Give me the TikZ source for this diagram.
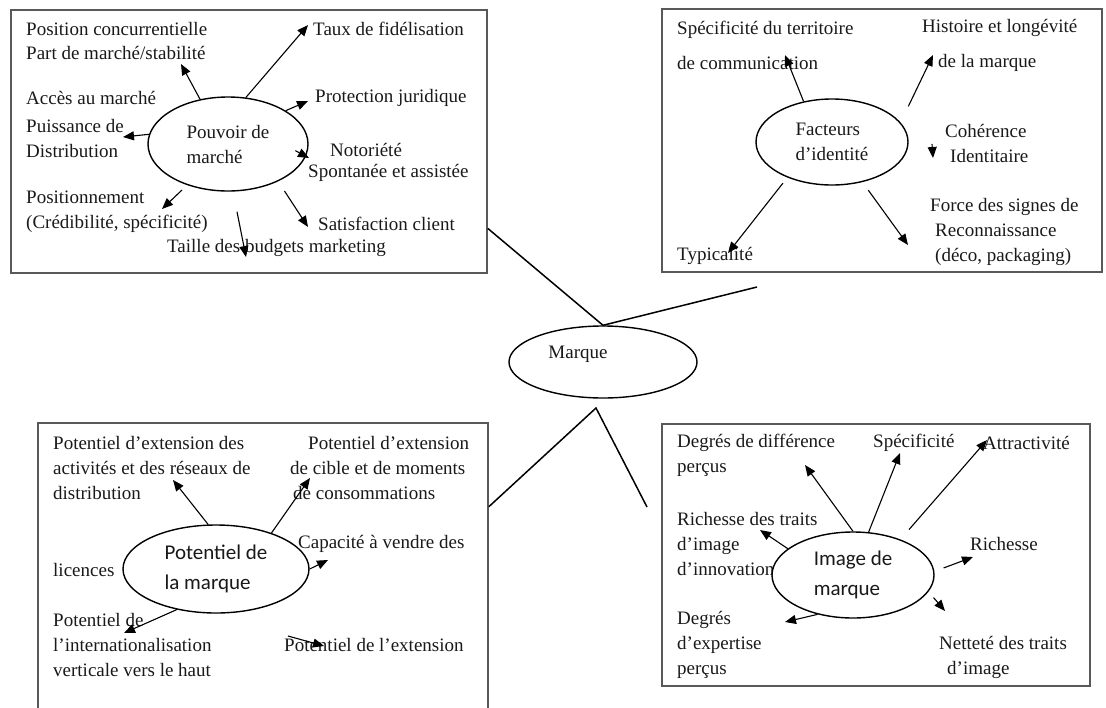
\documentclass[tikz,border=0pt]{standalone}
\usepackage{fontspec}
\setmainfont{Liberation Serif}
\newfontfamily\carlito{Carlito}
\usetikzlibrary{shapes.geometric,arrows.meta}

\begin{document}
\begin{tikzpicture}[x=1pt,y=-1pt,
        panel/.style={draw=black!65,line width=1.6pt,inner sep=0pt},
        hub/.style={ellipse,draw,line width=1.4pt,fill=white,inner sep=0pt,align=left,text=black!90,font=\fontsize{19}{25}\selectfont},
        hubsans/.style={hub,font=\carlito\fontsize{21}{30}\selectfont},
        txt/.style={anchor=west,align=left,inner sep=0pt,text=black!90,font=\fontsize{19}{25}\selectfont},
        arr/.style={-{Triangle[length=11pt,width=9pt]},line width=1.1pt},
        link/.style={line width=1.5pt}]
    \useasboundingbox (0,0) rectangle (1106,707);

    % Panels
    \node[panel,minimum width=476,minimum height=263] (pmarche) at (249,141.5) {};
    \node[panel,minimum width=440,minimum height=263] (pident) at (882,140.5) {};
    \node[panel,minimum width=450,minimum height=297] (ppot) at (263,571.5) {};
    \node[panel,minimum width=428,minimum height=262] (pimage) at (876,555) {};

    % Pouvoir de marche
    \node[txt] (pos) at (26,29) {Position concurrentielle};
    \node[txt] (part) at (26,53) {Part de marché/stabilité};
    \node[txt] (taux) at (313,29) {Taux de fidélisation};
    \node[txt] (acces) at (26,98) {Accès au marché};
    \node[txt] (puiss) at (26,138) {Puissance de\\Distribution};
    \node[txt] (prot) at (315,98) {Protection juridique};
    \node[txt] (notor) at (330,150) {Notoriété};
    \node[txt] (spont) at (308,173) {Spontanée et assistée};
    \node[txt] (posit) at (26,211.5) {Positionnement\\(Crédibilité, spécificité)};
    \node[txt] (satis) at (318,224) {Satisfaction client};
    \node[txt] (taille) at (167,248) {Taille des budgets marketing};
    \node[hub,minimum width=160,minimum height=94] (pouv) at (228,144) {Pouvoir de\\marché};

    % Facteurs d'identite
    \node[txt] (terr) at (677,45.5) {Spécificité du territoire\\[10pt]de communication};
    \node[txt] (hist) at (922,45.5) {Histoire et longévité\\[10pt]\hspace*{16pt}de la marque};
    \node[txt] (coher) at (945,143) {Cohérence\\\hspace*{5pt}Identitaire};
    \node[txt] (force) at (930,232) {Force des signes de\\\hspace*{5pt}Reconnaissance\\\hspace*{5pt}(déco, packaging)};
    \node[txt] (typ) at (677,256) {Typicalité};
    \node[hub,minimum width=152,minimum height=86] (fact) at (832,142) {Facteurs\\d’identité};

    % Potentiel de la marque
    \node[txt] (extA) at (53,468) {Potentiel d’extension des\\activités et des réseaux de\\distribution};
    \node[txt] (extB) at (290,468) {\hspace*{18pt}Potentiel d’extension\\de cible et de moments\\\hspace*{3pt}de consommations};
    \node[txt] (capa) at (298,544) {Capacité à vendre des};
    \node[txt] (lic) at (53,570) {licences};
    \node[txt] (inter) at (53,645) {Potentiel de\\l’internationalisation\\verticale vers le haut};
    \node[txt] (extC) at (284,645) {Potentiel de l’extension};
    \node[hubsans,minimum width=186,minimum height=88] (pot) at (216,569) {Potentiel de\\la marque};

    % Image de marque
    \node[txt] (diff) at (677,455.5) {Degrés de différence\\perçus};
    \node[txt] (spec) at (873,443) {Spécificité};
    \node[txt] (attr) at (983,443) {Attractivité};
    \node[txt] (rich) at (677,544) {Richesse des traits\\d’image\\d’innovation};
    \node[txt] (richb) at (970,544) {Richesse};
    \node[txt] (expert) at (677,645) {Degrés\\d’expertise\\perçus};
    \node[txt] (nett) at (939,657.5) {Netteté des traits\\\hspace*{8pt}d’image};
    \node[hubsans,minimum width=162,minimum height=86] (img) at (853,575) {Image de\\marque};

    % Marque
    \node[hub,minimum width=188,minimum height=72,
        label={[text=black!90,font=\fontsize{19}{25}\selectfont,xshift=-25pt,yshift=8pt]center:Marque}] (marque) at (603,362) {};

    % Arrow ends
    \coordinate (tPart) at (181,64);
    \coordinate (tTaux) at (308,25);
    \coordinate (tProt) at (308,101);
    \coordinate (tDistr) at (123,137);
    \coordinate (tNotor) at (309,158);
    \coordinate (tPosit) at (162,209);
    \coordinate (tTaille) at (246,257);
    \coordinate (tSatis) at (308,227);
    \coordinate (tTerr) at (785,55);
    \coordinate (tHist) at (933,55);
    \coordinate (tCoher) at (933,158);
    \coordinate (tTyp) at (728,253);
    \coordinate (tForce) at (908,245);
    \coordinate (tExtA) at (173,480);
    \coordinate (tExtB) at (310,478);
    \coordinate (tCapa) at (328,560);
    \coordinate (tInter) at (124,633);
    \coordinate (tExtC) at (324,646);
    \coordinate (tDiff) at (805,465);
    \coordinate (tSpec) at (900,453);
    \coordinate (tAttr) at (987,440);
    \coordinate (tRich) at (760,530);
    \coordinate (tRichB) at (973,557);
    \coordinate (tNett) at (945,611);
    \coordinate (tExpert) at (785,622);

    % Arrows
    \draw[arr] (pouv.122) -- (tPart);
    \draw[arr] (pouv.69) -- (tTaux);
    \draw[arr] (pouv.30) -- (tProt);
    \draw[arr] (pouv.173) -- (tDistr);
    \draw[arr] ([shift={(-10,-7)}]pouv.-10) -- (tNotor);
    \draw[arr] ([shift={(-5,5)}]pouv.225) -- (tPosit);
    \draw[arr] ([shift={(9,20)}]pouv.south) -- (tTaille);
    \draw[arr] ([shift={(10,8)}]pouv.-40) -- (tSatis);

    \draw[arr] (fact.125) -- (tTerr);
    \draw[arr] ([shift={(17,-8)}]fact.25) -- (tHist);
    \draw[arr] ([shift={(-13,1)}]coher.west) -- (tCoher);
    \draw[arr] ([shift={(-6,5)}]fact.220) -- (tTyp);
    \draw[arr] ([shift={(6,8)}]fact.-53) -- (tForce);

    \draw[arr] (pot.100) -- (tExtA);
    \draw[arr] (pot.33) -- (tExtB);
    \draw[arr] (pot.0) -- (tCapa);
    \draw[arr] (pot.226) -- (tInter);
    \draw[arr] ([shift={(4,-9)}]extC.west) -- (tExtC);

    \draw[arr] (img.north) -- (tDiff);
    \draw[arr] (img.70) -- (tSpec);
    \draw[arr] ([shift={(11,-9)}]img.39) -- (tAttr);
    \draw[arr] (img.158) -- (tRich);
    \draw[arr] ([shift={(10,0)}]img.5) -- (tRichB);
    \draw[arr] ([shift={(13,-2)}]img.-20) -- (tNett);
    \draw[arr] (img.228) -- (tExpert);

    % Links to Marque
    \coordinate (tailI) at (757,287);
    \coordinate (apex) at (596,408);
    \coordinate (tailR) at (647,507);
    \draw[link] (pmarche.-20) -- (marque.north);
    \draw[link] (marque.north) -- (tailI);
    \draw[link] (ppot.16) -- (apex) -- (tailR);
    \end{tikzpicture}
\end{document}
